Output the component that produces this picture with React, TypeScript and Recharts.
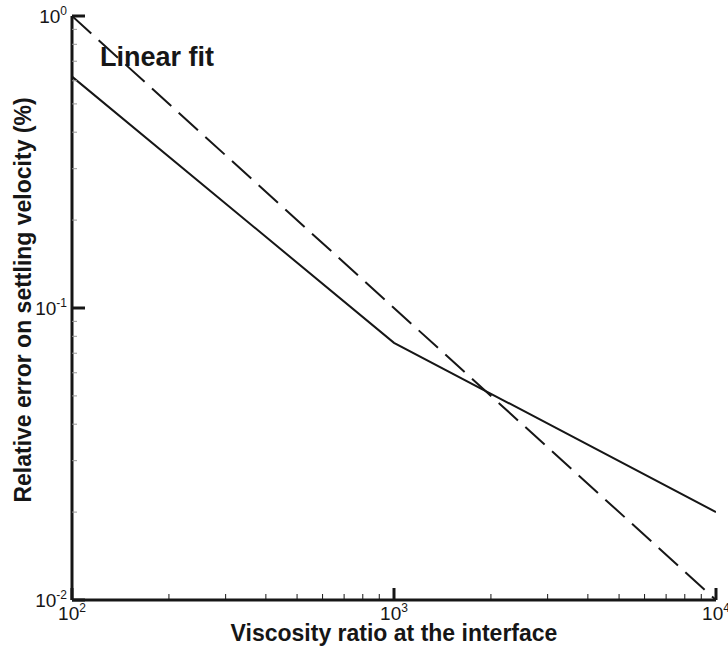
import { LineChart, Line, XAxis, YAxis } from "recharts";

// viscosity ratio (x) and relative error (y), log-log
const viscosityRatio = [100, 1000, 10000];
const relativeError = [0.62, 0.076, 0.02];

const fitRatio = [100, 10000];
const fitError = [1.0, 0.01];

const majorX = [100, 1000, 10000];
const majorY = [0.01, 0.1, 1];
const minorSteps = [2, 3, 4, 5, 6, 7, 8, 9];

const xTicks = [
  ...majorX,
  ...majorX.slice(0, -1).flatMap((d) => minorSteps.map((m) => d * m)),
].sort((a, b) => a - b);
const yTicks = [
  ...majorY,
  ...majorY.slice(0, -1).flatMap((d) => minorSteps.map((m) => +(d * m).toFixed(3))),
].sort((a, b) => a - b);

const solidRows = viscosityRatio.map((x, i) => ({ x, y: relativeError[i] }));
const fitRows = fitRatio.map((x, i) => ({ x, y: fitError[i] }));

const FONT = "'Liberation Sans', Arial, Helvetica, sans-serif";
const INK = "#161616";

const isMajor = (list: number[], v: number) =>
  list.some((m) => Math.abs(m - v) / m < 1e-6);

function XTick({ x, y, payload }: any) {
  const v = payload.value;
  const major = isMajor(majorX, v);
  return (
    <g>
      <line
        x1={x}
        x2={x}
        y1={y}
        y2={y - (major ? 12 : 6)}
        stroke={INK}
        strokeWidth={major ? 3 : 1}
      />
      {major && (
        <text x={x} y={y + 20} textAnchor="middle" fontSize={19} fill={INK} fontFamily={FONT}>
          10
          <tspan dy={-8} fontSize={12}>
            {Math.round(Math.log10(v))}
          </tspan>
        </text>
      )}
    </g>
  );
}

function YTick({ x, y, payload }: any) {
  const v = payload.value;
  const major = isMajor(majorY, v);
  return (
    <g>
      <line
        x1={x}
        x2={x + (major ? 13 : 5)}
        y1={y}
        y2={y}
        stroke={major ? INK : "#999"}
        strokeWidth={major ? 3 : 1}
      />
      {major && (
        <text x={x - 5} y={y + 7} textAnchor="end" fontSize={19} fill={INK} fontFamily={FONT}>
          10
          <tspan dy={-8} fontSize={12}>
            {Math.round(Math.log10(v))}
          </tspan>
        </text>
      )}
    </g>
  );
}

export default function App() {
  return (
    <div style={{ position: "absolute", left: 0, top: 0, background: "#fff" }}>
      <LineChart
        width={728}
        height={648}
        margin={{ top: 16, right: 12, bottom: 0, left: 0 }}
      >
        <XAxis
          dataKey="x"
          type="number"
          scale="log"
          domain={[100, 10000]}
          ticks={xTicks}
          interval={0}
          height={48}
          tickSize={0}
          tickMargin={0}
          tick={<XTick />}
          axisLine={{ stroke: INK, strokeWidth: 3 }}
          allowDataOverflow
        />
        <YAxis
          dataKey="y"
          type="number"
          scale="log"
          domain={[0.01, 1]}
          ticks={yTicks}
          interval={0}
          width={72}
          tickSize={0}
          tickMargin={0}
          tick={<YTick />}
          axisLine={{ stroke: INK, strokeWidth: 3 }}
          allowDataOverflow
        />
        <Line
          data={solidRows}
          dataKey="y"
          type="linear"
          stroke={INK}
          strokeWidth={2}
          dot={false}
          isAnimationActive={false}
        />
        <Line
          data={fitRows}
          dataKey="y"
          type="linear"
          stroke={INK}
          strokeWidth={2}
          strokeDasharray="26 10"
          dot={false}
          isAnimationActive={false}
        />
        <text x={100} y={66} fontSize={27} fontWeight="bold" fill={INK} fontFamily={FONT}>
          Linear fit
        </text>
        <text
          x={394}
          y={641}
          textAnchor="middle"
          fontSize={23}
          fontWeight="bold"
          fill={INK}
          fontFamily={FONT}
        >
          Viscosity ratio at the interface
        </text>
        <text
          x={31}
          y={300}
          textAnchor="middle"
          fontSize={23}
          fontWeight="bold"
          fill={INK}
          fontFamily={FONT}
          transform="rotate(-90 31 300)"
        >
          Relative error on settling velocity (%)
        </text>
      </LineChart>
    </div>
  );
}
